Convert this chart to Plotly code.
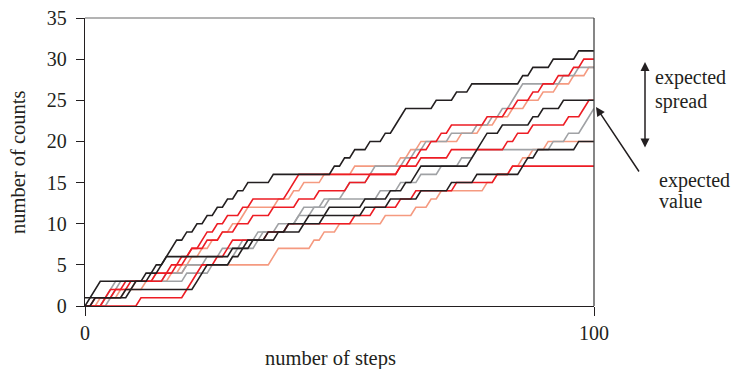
import plotly.graph_objects as go

# steps at which each walk gains one count (0 = already 1 at start)
steps = list(range(0, 101))
black1_inc = [1,2,3,13,15,16,17,18,20,22,24,26,28,30,32,37,49,51,53,56,59,61,62,63,69,73,76,86,88,92,97]
red1_inc = [4,6,8,16,18,20,21,23,24,26,28,31,33,40,41,42,62,64,66,68,70,72,79,83,85,88,90,93,96,98]
salmon1_inc = [4,7,10,17,19,21,23,25,27,29,31,32,38,41,43,47,53,62,64,66,74,78,81,84,87,90,93,96,99]
gray1_inc = [4,5,6,20,25,29,30,34,35,40,42,43,47,51,52,56,57,63,65,67,72,77,80,82,84,85,86,94,97]
black2_inc = [0,9,22,23,24,29,31,33,36,40,44,48,55,60,63,65,66,76,77,78,79,82,88,90,94]
red2_inc = [2,5,9,14,17,19,21,24,27,30,33,37,42,46,52,56,62,66,72,83,85,88,95,98,99]
gray2_inc = [5,6,7,16,20,24,27,31,34,38,42,45,48,58,62,66,70,74,77,92,95,98,99,100]
black3_inc = [2,8,10,12,14,16,29,32,38,43,47,55,60,66,72,77,86,87,89,97]
salmon2_inc = [3,8,12,14,20,37,38,45,47,50,59,65,68,70,79,81,84,86,88,91]
red3_inc = [11,20,21,22,23,26,28,29,36,40,53,57,62,65,73,81,84]

y_ticks = [0, 5, 10, 15, 20, 25, 30, 35]
x_ticks = [0, 100]

BLACK = "#231f20"
RED = "#ed1c24"
SALMON = "#f59a80"
GRAY = "#a0a2a5"

series = [
    (salmon2_inc, SALMON), (salmon1_inc, SALMON),
    (gray2_inc, GRAY), (gray1_inc, GRAY),
    (red3_inc, RED), (red2_inc, RED), (red1_inc, RED),
    (black3_inc, BLACK), (black2_inc, BLACK), (black1_inc, BLACK),
]

def counts(inc):
    return [sum(1 for k in inc if k <= s) for s in steps]

fig = go.Figure()
for inc, col in series:
    fig.add_trace(go.Scatter(x=steps, y=counts(inc), mode="lines",
                             line=dict(color=col, width=1.6), hoverinfo="skip",
                             showlegend=False))

FONT = "Liberation Serif, Times New Roman, serif"

fig.update_layout(
    width=733, height=369,
    margin=dict(l=85, r=139, t=18, b=63),
    paper_bgcolor="white", plot_bgcolor="white",
    font=dict(family=FONT, color=BLACK, size=20),
    xaxis=dict(range=[0, 100], tickvals=x_ticks, ticks="outside", ticklen=9,
               tickcolor=BLACK, tickwidth=1.3, showline=True, linecolor=BLACK,
               linewidth=1.3, showgrid=False, zeroline=False, automargin=False,
               ticklabelstandoff=0,
               tickfont=dict(size=20, family=FONT, color=BLACK)),
    yaxis=dict(range=[0, 35], tickvals=y_ticks, ticks="outside", ticklen=8,
               tickcolor=BLACK, tickwidth=1.3, showline=True, linecolor=BLACK,
               linewidth=1.3, showgrid=False, zeroline=False, automargin=False,
               ticklabelstandoff=5,
               tickfont=dict(size=20, family=FONT, color=BLACK)),
)

# frame: top (gray) and right (dark)
fig.add_shape(type="line", xref="paper", yref="paper", x0=0, x1=1, y0=1, y1=1,
              line=dict(color="#9a9a9a", width=1.3))
fig.add_shape(type="line", xref="paper", yref="paper", x0=1, x1=1, y0=0, y1=1,
              line=dict(color="#444444", width=1.3))

TXT = dict(size=20, family=FONT, color=BLACK)

# axis titles
fig.add_annotation(xref="paper", yref="paper", x=(330 - 85) / 509, y=(306 - 358) / 288,
                   text="number of steps", showarrow=False, xanchor="center",
                   yanchor="middle", font=dict(size=20.5, family=FONT, color=BLACK))
fig.add_annotation(xref="paper", yref="paper", x=(18 - 85) / 509, y=(306 - 163) / 288,
                   text="number of counts", showarrow=False, textangle=-90,
                   xanchor="center", yanchor="middle",
                   font=dict(size=20.5, family=FONT, color=BLACK))

# expected spread double arrow
fig.add_annotation(xref="paper", yref="paper", x=(645 - 85) / 509, y=(306 - 62) / 288,
                   ax=0, ay=87, axref="pixel", ayref="pixel", text="", showarrow=True,
                   arrowhead=2, startarrowhead=2, arrowside="end+start",
                   arrowsize=1.2, startarrowsize=1.2, arrowwidth=1.5, arrowcolor=BLACK)
fig.add_annotation(xref="paper", yref="paper", x=(653 - 85) / 509, y=(306 - 77) / 288,
                   xanchor="left", yanchor="middle", showarrow=False,
                   text="expected", font=TXT)
fig.add_annotation(xref="paper", yref="paper", x=(653 - 85) / 509, y=(306 - 102) / 288,
                   xanchor="left", yanchor="middle", showarrow=False,
                   text="spread", font=TXT)
# expected value arrow
fig.add_annotation(xref="paper", yref="paper", x=(596 - 85) / 509, y=(306 - 107) / 288,
                   ax=44, ay=66, axref="pixel", ayref="pixel", text="", showarrow=True,
                   arrowhead=2, arrowsize=1.2, arrowwidth=1.5, arrowcolor=BLACK)
fig.add_annotation(xref="paper", yref="paper", x=(657 - 85) / 509, y=(306 - 180) / 288,
                   xanchor="left", yanchor="middle", showarrow=False,
                   text="expected", font=TXT)
fig.add_annotation(xref="paper", yref="paper", x=(657 - 85) / 509, y=(306 - 201) / 288,
                   xanchor="left", yanchor="middle", showarrow=False,
                   text="value", font=TXT)

fig.write_html("out.html", config={"displayModeBar": False},
               post_script="document.body.style.margin='0';")
